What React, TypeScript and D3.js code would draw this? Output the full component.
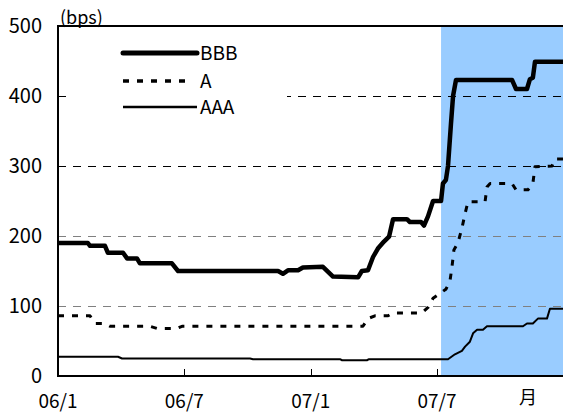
import React from "react";
import * as d3 from "d3";

// months counted from 2006-01 (0) ; values in bps
const bbbMonths = [0, 1.42, 1.52, 2.23, 2.37, 3.09, 3.28, 3.75, 3.89, 5.41, 5.7, 10.45, 10.68, 10.92, 11.4, 11.63, 12.58, 13.06, 14.25, 14.43, 14.72, 14.96, 15.19, 15.48, 15.72, 15.91, 16.57, 16.71, 17.24, 17.38, 17.57, 17.81, 18.19, 18.28, 18.42, 18.52, 18.66, 18.76, 18.9, 21.56, 21.75, 22.27, 22.41, 22.55, 22.65, 23.98];
const bbbValues = [190, 190, 186, 186, 176, 176, 168, 168, 161, 161, 150, 150, 146, 151, 151, 155, 156, 142, 141, 150, 151, 170, 182, 192, 199, 224, 224, 220, 220, 215, 228, 250, 250, 275, 280, 300, 360, 400, 423, 423, 410, 410, 424, 426, 449, 449];

const aMonths = [0, 1.52, 1.76, 2.23, 2.47, 4.37, 4.7, 5.65, 5.89, 14.48, 14.72, 15.05, 15.67, 15.91, 17.28, 17.57, 17.81, 18.14, 18.42, 18.61, 18.71, 18.8, 18.99, 19.18, 19.33, 19.47, 20.28, 20.37, 20.52, 21.56, 21.75, 22.32, 22.55, 22.65, 23.46, 23.6, 23.98];
const aValues = [86, 86, 75, 75, 71, 71, 68, 68, 71, 71, 82, 86, 86, 90, 90, 98, 111, 118, 124, 135, 156, 180, 190, 211, 232, 249, 249, 270, 275, 275, 266, 266, 275, 299, 300, 310, 310];

const aaaMonths = [0, 2.85, 3.04, 9.12, 9.26, 13.39, 13.49, 14.67, 14.77, 18.52, 18.85, 19.18, 19.33, 19.56, 19.71, 19.9, 20.18, 20.37, 22.08, 22.27, 22.55, 22.79, 23.22, 23.36, 23.98];
const aaaValues = [27.5, 27.5, 25, 25, 24, 24, 22.5, 22.5, 24, 24, 31, 36, 42, 49, 61, 66, 66, 71, 71, 75, 75, 82, 82, 96, 96];

const yTicks = [0, 100, 200, 300, 400, 500];
const xTickMonths = [0, 6, 12, 18];
const xTickLabels = ["06/1", "06/7", "07/1", "07/7"];
const shadeStart = 18.19;
const seriesNames = ["BBB", "A", "AAA"];

const W = 563;
const H = 413;
const FONT = "'Noto Sans CJK JP', 'Noto Sans', sans-serif";

export default function App() {
  const x = d3.scaleLinear().domain([0, 24]).range([58, 563.4]);
  const y = d3.scaleLinear().domain([0, 500]).range([376, 26]);
  const line = d3
    .line<[number, number]>()
    .x((d) => x(d[0]))
    .y((d) => y(d[1]));
  const zip = (m: number[], v: number[]) => m.map((mm, i) => [mm, v[i]] as [number, number]);

  const series = [
    { name: seriesNames[0], data: zip(bbbMonths, bbbValues), width: 4.5, dash: undefined as string | undefined },
    { name: seriesNames[1], data: zip(aMonths, aValues), width: 3, dash: "6 8" },
    { name: seriesNames[2], data: zip(aaaMonths, aaaValues), width: 2, dash: undefined },
  ];
  const legendY = [53, 81, 107];
  const legendW = [5, 3.5, 2.5];

  return (
    <svg width={W} height={H} style={{ position: "absolute", left: 0, top: 0, background: "#fff" }} fontFamily={FONT}>
      {/* shaded period */}
      <rect x={x(shadeStart)} y={y(500)} width={W - x(shadeStart)} height={y(0) - y(500)} fill="#99CCFF" />
      {/* gridlines */}
      {yTicks
        .filter((t) => t > 0 && t < 500)
        .map((t) => (
          <line
            key={t}
            x1={x(0)}
            x2={W}
            y1={Math.round(y(t)) + 0.5}
            y2={Math.round(y(t)) + 0.5}
            stroke={t >= 300 ? "#000" : "#808080"}
            strokeWidth={1}
            strokeDasharray="8 7"
          />
        ))}
      {/* legend background */}
      <rect x={60} y={30} width={227} height={88} fill="#fff" />
      {/* y tick at 400 */}
      <line x1={x(0)} x2={x(0) + 8} y1={Math.round(y(400)) + 0.5} y2={Math.round(y(400)) + 0.5} stroke="#000" strokeWidth={1} />
      {/* x ticks */}
      {xTickMonths.slice(1).map((m) => (
        <line key={m} x1={Math.round(x(m)) + 0.5} x2={Math.round(x(m)) + 0.5} y1={y(0)} y2={y(0) - 7} stroke="#000" strokeWidth={1} />
      ))}
      {/* series */}
      {series.map((s) => (
        <path
          key={s.name}
          d={line(s.data) || ""}
          fill="none"
          stroke="#000"
          strokeWidth={s.width}
          strokeDasharray={s.dash}
          strokeLinejoin="round"
        />
      ))}
      {/* axes frame */}
      <line x1={x(0)} x2={W} y1={y(500)} y2={y(500)} stroke="#000" strokeWidth={2} />
      <line x1={x(0)} x2={x(0)} y1={y(500) - 1} y2={y(0) + 1} stroke="#000" strokeWidth={2} />
      <line x1={x(0)} x2={W} y1={y(0)} y2={y(0)} stroke="#000" strokeWidth={2} />
      {/* y labels */}
      {yTicks.map((t) => (
        <text key={t} x={42} y={y(t) + 7} textAnchor="end" fontSize={20} fill="#000">
          {t}
        </text>
      ))}
      <text x={60} y={24} fontSize={18} fill="#000">
        (bps)
      </text>
      {/* x labels */}
      {xTickMonths.map((m, i) => (
        <text key={m} x={x(m)} y={408} textAnchor="middle" fontSize={19} fill="#000">
          {xTickLabels[i]}
        </text>
      ))}
      <text x={528} y={404} textAnchor="middle" fontSize={18} fill="#000">
        月
      </text>
      {/* legend */}
      {series.map((s, i) => (
        <g key={s.name}>
          <line
            x1={123}
            x2={s.dash ? 192 : 197}
            y1={legendY[i]}
            y2={legendY[i]}
            stroke="#000"
            strokeWidth={legendW[i]}
            strokeDasharray={s.dash}
            strokeLinecap={i === 0 ? "round" : "butt"}
          />
          <text x={200} y={legendY[i] + 7} fontSize={19} fill="#000">
            {s.name}
          </text>
        </g>
      ))}
    </svg>
  );
}
